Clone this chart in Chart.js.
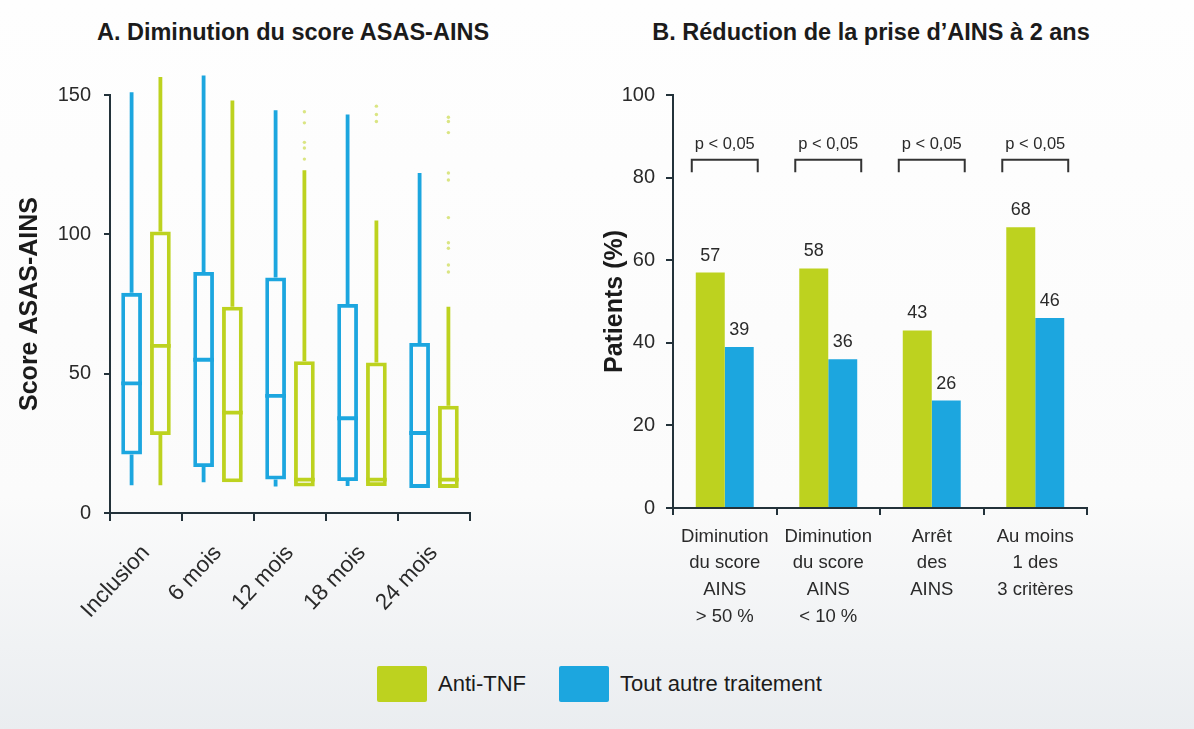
<!DOCTYPE html>
<html>
<head>
<meta charset="UTF-8" />
<script src="https://cdn.jsdelivr.net/npm/chart.js@4"></script>
<style>
  html, body { margin: 0; padding: 0; }
  body {
    width: 1194px; height: 729px; position: relative; overflow: hidden;
    background: linear-gradient(to bottom, #fefefe 0%, #fbfbfb 68%, #eaedf0 100%);
    font-family: "Liberation Sans", Arial, sans-serif;
  }
  canvas { position: absolute; top: 0; display: block; }
  .title {
    position: absolute; top: 19px; font-weight: bold; font-size: 23.5px;
    color: #1b1b1b; transform: translateX(-50%); white-space: nowrap;
  }
  .legend { position: absolute; top: 666px; height: 36px; display: flex; align-items: center; }
  .legend span.box { display: inline-block; width: 50px; height: 36px; border-radius: 2px; }
  .legend span.txt { font-size: 22px; color: #1b1b1b; margin-left: 11px; }
</style>
</head>
<body>
<div class="title" style="left:293px">A. Diminution du score ASAS-AINS</div>
<div class="title" style="left:871px">B. Réduction de la prise d’AINS à 2 ans</div>
<canvas id="boxes" width="590" height="660" style="left:0"></canvas>
<canvas id="bars" width="604" height="660" style="left:590px"></canvas>
<div class="legend" style="left:377px">
  <span class="box" style="background:#bdd21f"></span><span class="txt">Anti-TNF</span>
</div>
<div class="legend" style="left:559px">
  <span class="box" style="background:#1ca6df"></span><span class="txt">Tout autre traitement</span>
</div>
<script>
// couleurs
const GREEN = '#bdd21f';
const BLUE = '#1ca6df';
const AXIS = '#23323a';
const FONT = '"Liberation Sans", Arial, sans-serif';

// A. boîtes à moustaches
const periods = ['Inclusion', '6 mois', '12 mois', '18 mois', '24 mois'];
const blueMin = [10, 11, 9.5, 9.7, 9];
const blueQ1 = [21, 16.5, 12, 11.5, 9];
const blueMed = [46.5, 55, 42, 34, 28.7];
const blueQ3 = [79, 86.5, 84.5, 75, 61];
const blueMax = [151, 157, 144.5, 143, 122];
const greenMin = [10, 11, 9.5, 9.7, 9];
const greenQ1 = [28, 11, 9.5, 9.7, 9];
const greenMed = [60, 36, 12, 12, 12];
const greenQ3 = [101, 74, 54.5, 54, 38.5];
const greenMax = [156.5, 148, 123, 105, 74];
const greenOutliers = [[], [], [144, 140, 133, 131, 127], [146, 143, 140.5], [142, 140.5, 136.5, 122, 119.5, 106, 97, 95, 89, 86.5]];

// B. réduction de la prise d'AINS
const criteria = [
  ['Diminution', 'du score', 'AINS', '> 50 %'],
  ['Diminution', 'du score', 'AINS', '< 10 %'],
  ['Arrêt', 'des', 'AINS'],
  ['Au moins', '1 des', '3 critères'],
];
const antiTnf = [57, 58, 43, 68];
const autreTrt = [39, 36, 26, 46];
const pValues = ['p < 0,05', 'p < 0,05', 'p < 0,05', 'p < 0,05'];

// moustaches, médianes et valeurs extrêmes dessinées à partir des barres flottantes
const boxPlugin = {
  id: 'boxWhiskers',
  afterDatasetsDraw(chart) {
    const ctx = chart.ctx;
    const y = chart.scales.y;
    chart.data.datasets.forEach((ds, d) => {
      const meta = chart.getDatasetMeta(d);
      ctx.save();
      ctx.strokeStyle = ds.borderColor;
      ctx.fillStyle = ds.borderColor;
      ctx.lineWidth = 3.8;
      meta.data.forEach((bar, i) => {
        const half = bar.width / 2;
        ctx.beginPath();
        ctx.moveTo(bar.x, y.getPixelForValue(ds.data[i][1]));
        ctx.lineTo(bar.x, y.getPixelForValue(ds.stats.max[i]));
        ctx.moveTo(bar.x, y.getPixelForValue(ds.data[i][0]));
        ctx.lineTo(bar.x, y.getPixelForValue(ds.stats.min[i]));
        ctx.moveTo(bar.x - half, y.getPixelForValue(ds.stats.med[i]));
        ctx.lineTo(bar.x + half, y.getPixelForValue(ds.stats.med[i]));
        ctx.stroke();
        (ds.stats.out[i] || []).forEach(v => {
          ctx.globalAlpha = 0.55;
          ctx.beginPath();
          ctx.arc(bar.x, y.getPixelForValue(v), 1.7, 0, Math.PI * 2);
          ctx.fill();
          ctx.globalAlpha = 1;
        });
      });
      ctx.restore();
    });
  }
};

const axisGrid = (len) => ({
  display: true,
  drawOnChartArea: false,
  drawTicks: true,
  tickLength: len,
  color: AXIS,
  tickColor: AXIS,
  lineWidth: 2,
});

new Chart(document.getElementById('boxes'), {
  type: 'bar',
  data: {
    labels: periods,
    datasets: [
      {
        label: 'Tout autre traitement',
        data: blueQ1.map((q, i) => [q, blueQ3[i]]),
        stats: { min: blueMin, med: blueMed, max: blueMax, out: [] },
        backgroundColor: 'rgba(0,0,0,0)',
        borderColor: BLUE,
        borderWidth: 3.8,
        borderSkipped: false,
      },
      {
        label: 'Anti-TNF',
        data: greenQ1.map((q, i) => [q, greenQ3[i]]),
        stats: { min: greenMin, med: greenMed, max: greenMax, out: greenOutliers },
        backgroundColor: 'rgba(0,0,0,0)',
        borderColor: GREEN,
        borderWidth: 3.8,
        borderSkipped: false,
      },
    ],
  },
  options: {
    responsive: false,
    animation: false,
    categoryPercentage: 0.8,
    barPercentage: 0.72,
    layout: { padding: { top: 95, right: 120, left: 0, bottom: 0 } },
    plugins: { legend: { display: false }, tooltip: { enabled: false } },
    scales: {
      x: {
        grid: axisGrid(8),
        border: { color: AXIS, width: 2 },
        ticks: { color: '#2a2a2a', font: { family: FONT, size: 22.5 }, minRotation: 47, maxRotation: 47, padding: 19 },
        afterFit: (scale) => { scale.height = 147; },
      },
      y: {
        min: 0,
        max: 150,
        grid: axisGrid(6),
        border: { color: AXIS, width: 2 },
        ticks: { stepSize: 50, color: '#2a2a2a', font: { family: FONT, size: 20 }, padding: 13 },
        title: {
          display: true,
          text: 'Score ASAS-AINS',
          color: '#1b1b1b',
          font: { family: FONT, size: 25, weight: 'bold' },
          padding: { top: 15, bottom: 0 },
        },
        afterFit: (scale) => { scale.width = 110; },
      },
    },
  },
  plugins: [boxPlugin],
});

// étiquettes de valeurs et crochets de significativité
const barLabels = {
  id: 'barLabels',
  afterDatasetsDraw(chart) {
    const ctx = chart.ctx;
    const y = chart.scales.y;
    ctx.save();
    ctx.fillStyle = '#2a2a2a';
    ctx.font = `18px ${FONT}`;
    ctx.textAlign = 'center';
    ctx.textBaseline = 'bottom';
    chart.data.datasets.forEach((ds, d) => {
      chart.getDatasetMeta(d).data.forEach((bar, i) => {
        ctx.fillText(String(ds.data[i]), bar.x, bar.y - 8);
      });
    });
    const g = chart.getDatasetMeta(0).data;
    const b = chart.getDatasetMeta(1).data;
    ctx.strokeStyle = '#333';
    ctx.lineWidth = 2;
    ctx.font = `16.5px ${FONT}`;
    ctx.textBaseline = 'middle';
    pValues.forEach((p, i) => {
      const x0 = g[i].x - g[i].width / 2 - 4;
      const x1 = b[i].x + b[i].width / 2 + 4;
      const yt = y.getPixelForValue(84.3);
      const yb = y.getPixelForValue(81.3);
      ctx.beginPath();
      ctx.moveTo(x0, yb);
      ctx.lineTo(x0, yt);
      ctx.lineTo(x1, yt);
      ctx.lineTo(x1, yb);
      ctx.stroke();
      ctx.fillText(p, (x0 + x1) / 2, y.getPixelForValue(88));
    });
    ctx.restore();
  }
};

new Chart(document.getElementById('bars'), {
  type: 'bar',
  data: {
    labels: criteria,
    datasets: [
      { label: 'Anti-TNF', data: antiTnf, backgroundColor: GREEN, borderWidth: 0 },
      { label: 'Tout autre traitement', data: autreTrt, backgroundColor: BLUE, borderWidth: 0 },
    ],
  },
  options: {
    responsive: false,
    animation: false,
    categoryPercentage: 0.56,
    barPercentage: 1.0,
    layout: { padding: { top: 95, right: 107, left: 0, bottom: 0 } },
    plugins: { legend: { display: false }, tooltip: { enabled: false } },
    scales: {
      x: {
        grid: axisGrid(7),
        border: { color: AXIS, width: 2 },
        ticks: { color: '#2a2a2a', font: { family: FONT, size: 18.5, lineHeight: 1.45 }, maxRotation: 0, padding: 8 },
        afterFit: (scale) => { scale.height = 152; },
      },
      y: {
        min: 0,
        max: 100,
        grid: axisGrid(7),
        border: { color: AXIS, width: 2 },
        ticks: { stepSize: 20, color: '#2a2a2a', font: { family: FONT, size: 20 }, padding: 11 },
        title: {
          display: true,
          text: 'Patients (%)',
          color: '#1b1b1b',
          font: { family: FONT, size: 25, weight: 'bold' },
          padding: { top: 10, bottom: 0 },
        },
        afterFit: (scale) => { scale.width = 83; },
      },
    },
  },
  plugins: [barLabels],
});
</script>
</body>
</html>
